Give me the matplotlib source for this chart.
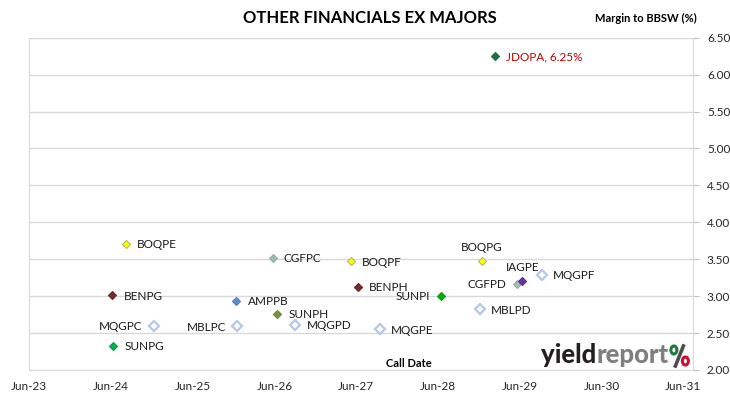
import pandas as pd
import matplotlib
matplotlib.use("Agg")
import matplotlib.pyplot as plt
import matplotlib.dates as mdates
from matplotlib.patches import Ellipse
from matplotlib.lines import Line2D

plt.rcParams['font.family'] = ['Lato', 'DejaVu Sans']

######### DATA #########
codes = ['BOQPE', 'CGFPC', 'BOQPF', 'BENPG', 'AMPPB', 'SUNPH', 'MQGPC', 'MBLPC',
         'MQGPD', 'SUNPG', 'BENPH', 'MQGPE', 'SUNPI', 'BOQPG', 'MBLPD', 'CGFPD',
         'IAGPE', 'MQGPF', 'JDOPA']
call_dates = ['2024-08-22', '2026-06-07', '2027-05-22', '2024-06-21', '2025-12-27',
              '2026-06-28', '2024-12-23', '2025-12-30', '2026-09-17', '2024-06-26',
              '2027-06-24', '2027-09-29', '2028-06-28', '2028-12-26', '2028-12-19',
              '2029-06-04', '2029-06-26', '2029-09-21', '2029-02-25']
margins = [3.71, 3.52, 3.47, 3.01, 2.94, 2.76, 2.60, 2.59,
           2.61, 2.33, 3.13, 2.55, 3.00, 3.47, 2.82, 3.17,
           3.20, 3.29, 6.25]
tick_dates = ['2023-06-15', '2024-06-15', '2025-06-15', '2026-06-15', '2027-06-15',
              '2028-06-15', '2029-06-15', '2030-06-15', '2031-06-15']

# marker colours per issuer (face, edge)
styles = {
    'BOQ': ('#FFFF00', '#B8B860'),
    'CGF': ('#A3BBA8', '#8FAEC6'),
    'BEN': ('#7B2C2C', '#6A2424'),
    'AMP': ('#558ED5', '#4F81BD'),
    'SUNPH': ('#77933C', '#6E8A35'),
    'SUNPG': ('#00B050', '#00A048'),
    'SUNPI': ('#00B000', '#00A000'),
    'IAG': ('#7030A0', '#60288C'),
    'JDO': ('#217346', '#1D6640'),
    'MQG': ('white', '#B4C7E7'),
    'MBL': ('white', '#B4C7E7'),
}

# label placement: r = right, l = left, t = top
placement = {'MQGPC': 'l', 'MBLPC': 'l', 'SUNPI': 'l', 'CGFPD': 'l',
             'BOQPG': 't', 'IAGPE': 't'}

dates = pd.to_datetime(call_dates)

W, H = 730, 399
fig = plt.figure(figsize=(7.3, 3.99), dpi=100)
ax = fig.add_axes([29 / W, 29 / H, 664 / W, 332.3 / H])

for code, d, m in zip(codes, dates, margins):
    face, edge = styles.get(code, styles.get(code[:3]))
    hollow = face == 'white'
    ax.plot(d, m, marker='D', markersize=4.6 if hollow else 4.2,
            markerfacecolor=face, markeredgecolor=edge,
            markeredgewidth=1.6 if hollow else 0.8, linestyle='none', zorder=3)
    pos = placement.get(code, 'r')
    txt = code
    col = '#1a1a1a'
    if code == 'JDOPA':
        txt = 'JDOPA, 6.25%'
        col = '#C00000'
    if pos == 'r':
        ax.annotate(txt, (d, m), xytext=(8, -0.5), textcoords='offset points',
                    ha='left', va='center', fontsize=8.5, color=col)
    elif pos == 'l':
        ax.annotate(txt, (d, m), xytext=(-8, -0.5), textcoords='offset points',
                    ha='right', va='center', fontsize=8.5, color=col)
    else:
        ax.annotate(txt, (d, m), xytext=(0, 10), textcoords='offset points',
                    ha='center', va='center', fontsize=8.5, color=col)

ax.set_ylim(2.0, 6.5)
ax.set_yticks([2.0 + 0.5 * i for i in range(10)])
ax.yaxis.set_major_formatter(matplotlib.ticker.FormatStrFormatter('%.2f'))
ax.yaxis.tick_right()
ax.tick_params(axis='y', direction='out', length=4, color='#BFBFBF',
               labelsize=8.5, labelcolor='#262626', pad=6)

ax.set_xlim(pd.Timestamp('2023-06-15'), pd.Timestamp('2031-07-28'))
ax.set_xticks(pd.to_datetime(tick_dates))
ax.xaxis.set_major_formatter(mdates.DateFormatter('%b-%y'))
ax.tick_params(axis='x', length=0, labelsize=8.5, labelcolor='#262626', pad=8)

ax.grid(axis='y', color='#D9D9D9', linewidth=1)
ax.set_axisbelow(True)
for s in ['left', 'right', 'bottom', 'top']:
    ax.spines[s].set_color('#D9D9D9')
ax.spines['top'].set_visible(False)

fig.text(0.507, 0.955, 'OTHER FINANCIALS EX MAJORS', ha='center', va='center',
         fontsize=12, fontweight='bold', color='#000000')
fig.text(0.955, 0.953, 'Margin to BBSW (%)', ha='right', va='center',
         fontsize=8, fontweight='bold', color='#000000')
fig.text(0.56, 0.09, 'Call Date', ha='center', va='center',
         fontsize=8, fontweight='bold', color='#000000')

######### LOGO #########
renderer = fig.canvas.get_renderer()
x0 = 541
base_y = 36  # baseline in pixels from bottom
t1 = fig.text(x0 / W, base_y / H, 'yield', ha='left', va='baseline', fontsize=18.5,
              fontweight='black', color='#231F20')
bb = t1.get_window_extent(renderer)
t2 = fig.text(bb.x1 / W, base_y / H, 'report', ha='left', va='baseline', fontsize=18.5,
              fontweight='black', color='#7F7F7F')
bb2 = t2.get_window_extent(renderer)

# percent sign: slash plus a green and a red ring
px = bb2.x1 + 2
fig.add_artist(Line2D([(px + 5) / W, (px + 13) / W], [33 / H, 53 / H],
                      transform=fig.transFigure, color='#4D4D4D', linewidth=2.6))
fig.add_artist(Ellipse(((px + 3.5) / W, 49 / H), 6 / W, 8 / H, transform=fig.transFigure,
                       facecolor='none', edgecolor='#1E7B3C', linewidth=2.2))
fig.add_artist(Ellipse(((px + 15) / W, 38 / H), 6 / W, 8 / H, transform=fig.transFigure,
                       facecolor='none', edgecolor='#C8102E', linewidth=2.2))

fig.savefig('out.png', dpi=100)
